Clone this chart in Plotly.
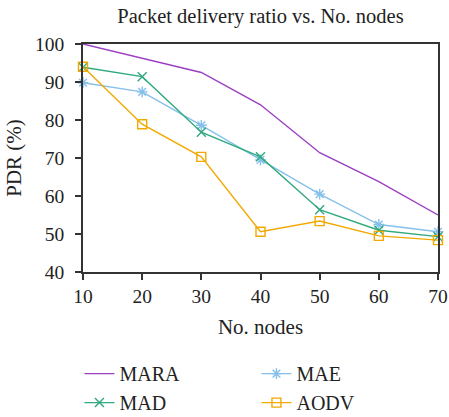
import plotly.graph_objects as go

nodes = [10, 20, 30, 40, 50, 60, 70]
mara = [100, 96.2, 92.5, 84.0, 71.4, 63.8, 55.0]
mad = [93.9, 91.4, 76.8, 70.3, 56.4, 51.0, 49.3]
mae = [89.8, 87.4, 78.6, 69.5, 60.5, 52.5, 50.6]
aodv = [94.0, 78.9, 70.3, 50.6, 53.4, 49.5, 48.4]

FONT = "Liberation Serif"
TEXT_COLOR = "#222222"
AXIS_COLOR = "#333333"

fig = go.Figure()

# legend reads row by row: MARA, MAE / MAD, AODV
series = [
    ("MARA", mara, "#9a3fc2", None),
    ("MAE", mae, "#85c0ea", "asterisk-open"),
    ("MAD", mad, "#30a97e", "x-thin-open"),
    ("AODV", aodv, "#f2a900", "square-open"),
]

for name, values, color, symbol in series:
    fig.add_trace(go.Scatter(
        x=nodes,
        y=values,
        name=name,
        mode="lines+markers" if symbol else "lines",
        line=dict(color=color, width=1.4),
        marker=dict(symbol=symbol, size=9, color=color,
                    line=dict(color=color, width=1.4)) if symbol else None,
        cliponaxis=False,
    ))

fig.update_layout(
    width=449,
    height=417,
    paper_bgcolor="white",
    plot_bgcolor="white",
    margin=dict(l=83, r=11, t=44, b=145, autoexpand=False),
    font=dict(family=FONT, size=20, color=TEXT_COLOR),
    title=dict(
        text="Packet delivery ratio vs. No. nodes",
        xref="paper", x=0.5, xanchor="center",
        yref="container", y=0.962, yanchor="middle",
        font=dict(family=FONT, size=20.5, color=TEXT_COLOR),
    ),
    legend=dict(
        orientation="h",
        x=-0.01, xanchor="left",
        y=-0.36, yanchor="top",
        entrywidth=132, entrywidthmode="pixels",
        font=dict(family=FONT, size=20, color=TEXT_COLOR),
        bgcolor="rgba(0,0,0,0)",
    ),
    showlegend=True,
)

fig.update_xaxes(
    range=[10, 70],
    tickvals=nodes,
    showgrid=False,
    zeroline=False,
    showline=True, linecolor=AXIS_COLOR, linewidth=1.5, mirror=True,
    ticks="outside", ticklen=6, tickcolor=AXIS_COLOR, tickwidth=1.5,
    title=dict(text="No. nodes", font=dict(family=FONT, size=21), standoff=13),
    tickfont=dict(family=FONT, size=19.5),
)

fig.update_yaxes(
    range=[40, 100],
    dtick=10,
    showgrid=False,
    zeroline=False,
    showline=True, linecolor=AXIS_COLOR, linewidth=1.5, mirror=True,
    ticks="outside", ticklen=6, tickcolor=AXIS_COLOR, tickwidth=1.5,
    ticklabelstandoff=7,
    title=dict(text="PDR (%)", font=dict(family=FONT, size=21), standoff=8),
    tickfont=dict(family=FONT, size=19.5),
)

fig.write_html(
    "out.html",
    config={"displayModeBar": False},
    post_script="document.body.style.margin='0';",
)
